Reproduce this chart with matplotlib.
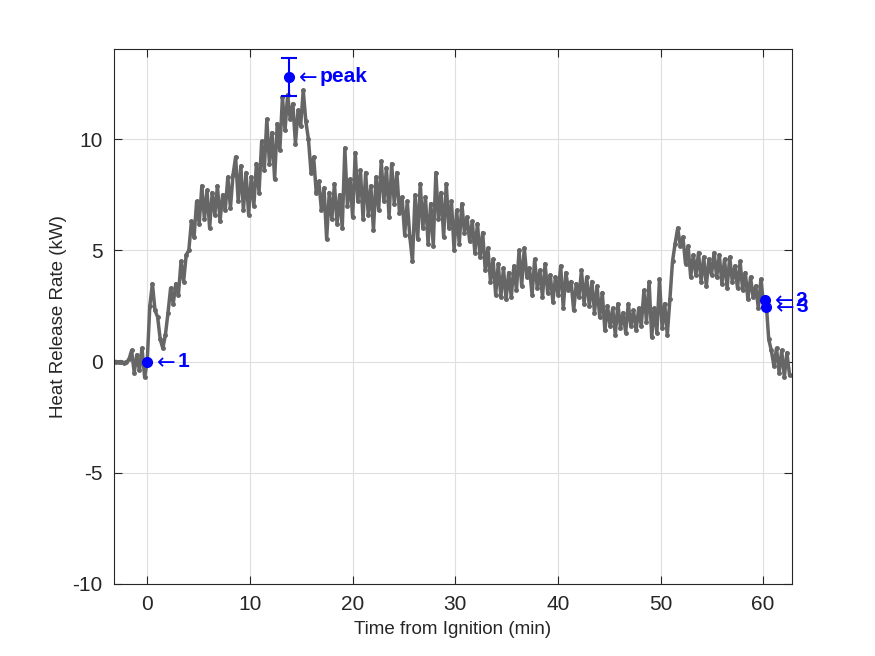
import numpy as np
import matplotlib
matplotlib.use("Agg")
import matplotlib.pyplot as plt

plt.rcParams['font.family'] = ['Liberation Sans', 'DejaVu Sans']
plt.rcParams['axes.unicode_minus'] = False

# sampling of the heat release record (min)
t_start = -3.06
t_step = 0.2534

# heat release rate (kW)
hrr = [
    0.0, -0.02, 0.0, -0.05, -0.03, 0.1,
    0.5, -0.5, 0.3, -0.4, 0.6, -0.7,
    0.0, 2.5, 3.5, 2.3, 2.0, 1.0, 0.6, 1.2,
    2.2, 3.3, 2.6, 3.5, 3.0, 4.5, 3.6, 4.8,
    5.0, 6.3, 5.6, 7.2, 6.2, 7.9, 6.4, 7.7,
    6.0, 7.6, 6.6, 7.9, 6.3, 7.5, 6.8, 8.3,
    6.9, 8.4, 9.2, 7.2, 8.8, 6.8, 8.5, 6.6,
    8.3, 7.0, 8.9, 7.6, 9.9, 8.6, 10.9, 8.9,
    10.3, 8.2, 10.7, 9.5, 11.9, 10.4, 12.0, 10.9,
    11.6, 9.8, 11.3, 10.6, 12.2, 10.8, 10.0, 8.5,
    9.2, 7.6, 8.1, 6.8, 7.8, 5.5, 7.6, 6.4,
    8.0, 6.2, 7.5, 6.0, 9.6, 7.0, 8.2, 6.5,
    9.4, 7.2, 8.6, 6.4, 8.5, 6.6, 7.9, 5.9,
    8.3, 6.8, 9.0, 7.2, 8.7, 6.5, 8.9, 7.1,
    8.5, 6.7, 7.4, 5.7, 7.2, 5.6, 4.5, 7.5,
    5.5, 8.0, 6.0, 7.4, 5.3, 7.1, 5.2, 8.5,
    6.4, 7.6, 5.6, 8.0, 6.0, 7.2, 5.0, 6.8,
    5.3, 7.1, 5.8, 6.5, 5.4, 6.3, 4.9, 6.2,
    4.7, 5.8, 4.1, 5.1, 3.6, 4.6, 3.0, 4.4,
    2.9, 4.2, 2.8, 4.0, 2.9, 4.3, 3.2, 5.0,
    3.4, 5.1, 3.8, 4.2, 3.0, 4.6, 3.3, 4.1,
    2.9, 4.4, 3.1, 3.9, 2.7, 3.8, 3.0, 4.3,
    2.4, 4.0, 3.2, 3.6, 2.3, 3.5, 2.9, 4.1,
    2.6, 3.8, 2.5, 3.6, 2.2, 3.4, 2.0, 3.1,
    1.4, 2.5, 1.6, 2.4, 1.2, 2.6, 1.5, 2.2,
    1.3, 2.6, 1.6, 2.3, 1.4, 2.4, 1.6, 3.2,
    1.8, 3.6, 1.1, 2.4, 1.3, 3.7, 1.5, 2.6,
    1.2, 2.8, 4.5, 5.3, 6.0, 5.2, 5.6, 4.4,
    5.2, 3.8, 4.8, 3.9, 4.9, 3.6, 4.7, 3.4,
    4.6, 3.9, 4.9, 3.8, 4.8, 3.5, 4.6, 3.3,
    4.7, 3.6, 4.3, 3.3, 4.5, 3.2, 4.0, 2.8,
    3.8, 2.9, 3.4, 2.4, 3.7, 2.6, 2.7, 1.0,
    0.5, -0.2, 0.6, -0.5, 0.5, -0.7, 0.4, -0.6,
]
time = t_start + t_step * np.arange(len(hrr))

# marked points
mark_t = [0.0, 13.8, 60.2, 60.25]
mark_q = [0.0, 12.8, 2.76, 2.46]
mark_lbl = ['1', 'peak', '2', '3']
peak_err = 0.85

fig = plt.figure(figsize=(8.75, 6.56), dpi=100)
ax = fig.add_axes([0.13, 0.11, 0.775, 0.815])

ax.plot(time, hrr, '-', color='#666666', lw=2.5, marker='.', ms=5, zorder=2)

blue = (0, 0, 1)
ax.errorbar(mark_t[1], mark_q[1], yerr=peak_err, fmt='none', ecolor=blue,
            elinewidth=1.5, capsize=6, capthick=1.5, zorder=3)
ax.plot(mark_t, mark_q, 'o', color=blue, ms=7, zorder=4)
for x, y, s in zip(mark_t, mark_q, mark_lbl):
    ax.annotate('\u2190', (x, y), xytext=(7, -1), textcoords='offset points',
                color=blue, fontsize=16, va='center', ha='left',
                family=['DejaVu Sans'])
    ax.annotate(s, (x, y), xytext=(22, 0), textcoords='offset points',
                color=blue, fontsize=15, fontweight='bold', va='center',
                ha='left', annotation_clip=False)

ax.set_xlim(-3.28, 62.8)
ax.set_ylim(-10, 14.05)
ax.set_xticks([0, 10, 20, 30, 40, 50, 60])
ax.set_yticks([-10, -5, 0, 5, 10])
ax.grid(True, color='#dfdfdf', lw=0.8)
ax.set_axisbelow(True)
ax.tick_params(direction='in', length=6, width=0.8, top=True, right=True,
               labelsize=15, colors='#262626', pad=8)
for sp in ax.spines.values():
    sp.set_color('#262626')
    sp.set_linewidth(0.8)

ax.set_xlabel('Time from Ignition (min)', fontsize=13.5, color='#262626',
              labelpad=5)
ax.set_ylabel('Heat Release Rate (kW)', fontsize=13.5, color='#262626',
              labelpad=4)

fig.savefig('out.png', dpi=100)
